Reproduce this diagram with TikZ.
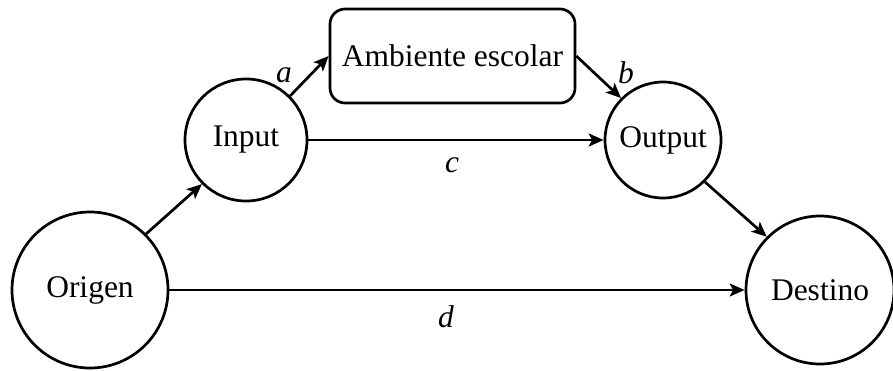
\documentclass[tikz,border=0pt]{standalone}
\usepackage{fontspec}
\setmainfont{Liberation Serif}
\usetikzlibrary{arrows.meta}
\begin{document}
\begin{tikzpicture}[x=1pt,y=-1pt,
  font=\fontsize{31.5}{36}\selectfont,
  circ/.style={draw, circle, line width=2.7pt, inner sep=0pt},
  rbox/.style={draw, rectangle, rounded corners=15pt, line width=2.7pt, inner sep=0pt},
  conn/.style={line width=2.7pt, -{Stealth[length=15pt,width=13pt,inset=3.5pt]}},
  lbl/.style={anchor=base, inner sep=0pt, font=\fontsize{31.5}{36}\selectfont\itshape}]
\useasboundingbox (0,0) rectangle (893,370);
\node[circ, minimum size=156pt] (origen) at (90,290) {Origen};
\node[circ, minimum size=122pt] (input) at (246,140) {Input};
\node[circ, minimum size=116pt] (output) at (663,140) {Output};
\node[circ, minimum size=148pt] (destino) at (820,290) {Destino};
\node[rbox, minimum width=245pt, minimum height=94pt] (amb) at (452.5,56) {Ambiente escolar};
\draw[conn] (origen.45) -- (input.225);
\draw[conn] (origen.east) -- (destino.west);
\draw[conn] (input.45) -- (amb.west);
\draw[conn] (amb.east) -- (output.135);
\draw[conn] (input.east) -- (output.west);
\draw[conn] (output.-45) -- (destino.135);
\node[lbl] (la) at (284,82) {a};
\node[lbl] (lb) at (626,83) {b};
\node[lbl] (lc) at (452,172) {c};
\node[lbl] (ld) at (446,327) {d};
\end{tikzpicture}
\end{document}
